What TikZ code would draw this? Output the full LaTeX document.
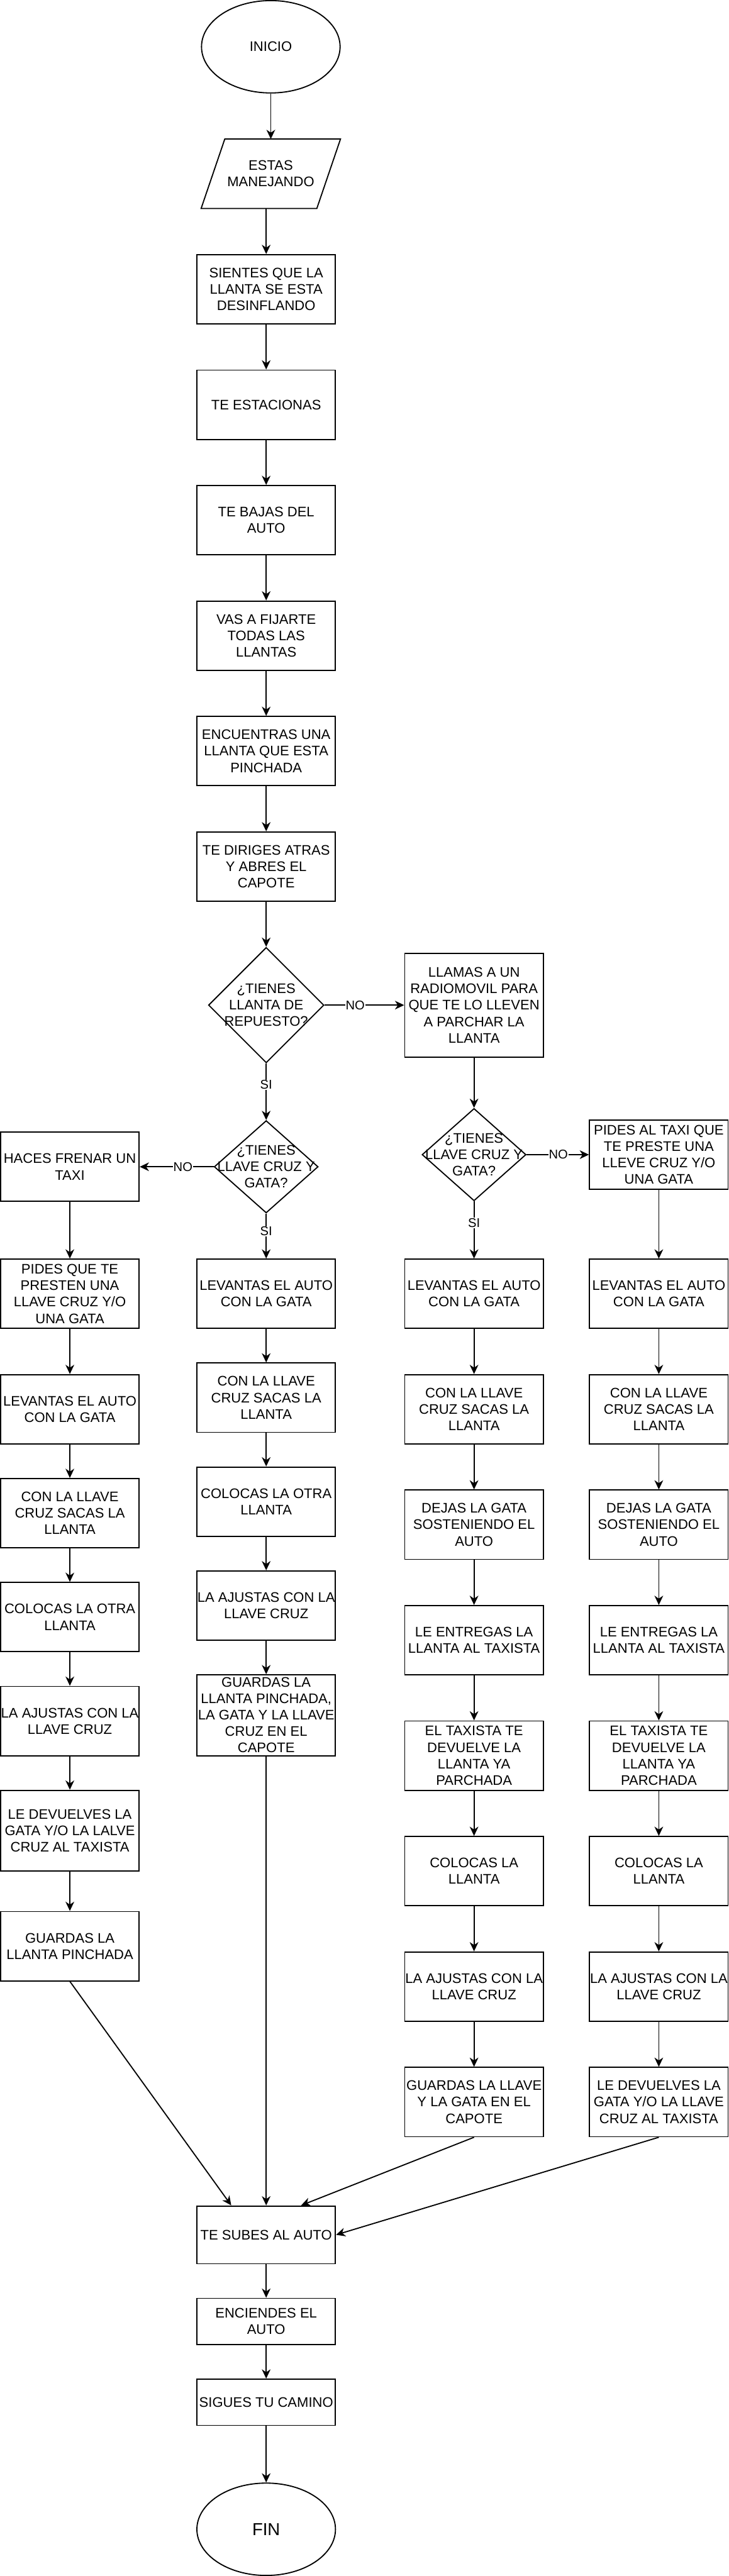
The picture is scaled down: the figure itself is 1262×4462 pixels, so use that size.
\documentclass[tikz,border=0pt]{standalone}
\usepackage{fontspec}
\setmainfont{Liberation Sans}
\usetikzlibrary{shapes.geometric,arrows.meta,calc}
\begin{document}
\begin{tikzpicture}[x=1pt,y=-1pt,
  every node/.style={font=\fontsize{24}{28.5}\selectfont, inner sep=0pt, align=center},
  box/.style={draw, line width=2pt, minimum width=240pt, minimum height=120pt},
  tallbox/.style={box, minimum height=140pt},
  term/.style={draw, ellipse, line width=2pt, minimum width=240pt, minimum height=160pt},
  dia/.style={draw, diamond, line width=2pt},
  arr/.style={draw, line width=2pt, -{Stealth[length=16pt,width=15pt,inset=5pt]}},
  lbl/.style={font=\fontsize{22}{26}\selectfont, fill=white, inner sep=1pt}
]
\fill[white] (0,0) rectangle (1262,4462);
\useasboundingbox (0,0) rectangle (1262,4462);

% main trunk
\node[term] (inicio) at (469,81) {INICIO};
\node[minimum width=241pt, minimum height=120pt] (estas) at (469,301) {ESTAS\\MANEJANDO};
\draw[line width=2pt] ($(estas.north west)+(41,0)$) -- (estas.north east) -- ($(estas.south east)+(-41,0)$) -- (estas.south west) -- cycle;
\node[box] (sientes) at (461,501) {SIENTES QUE LA\\LLANTA SE ESTA\\DESINFLANDO};
\node[box] (estac) at (461,701) {TE ESTACIONAS};
\node[box] (bajas) at (461,901) {TE BAJAS DEL\\AUTO};
\node[box] (vas) at (461,1101) {VAS A FIJARTE\\TODAS LAS\\LLANTAS};
\node[box] (encu) at (461,1301) {ENCUENTRAS UNA\\LLANTA QUE ESTA\\PINCHADA};
\node[box] (dirig) at (461,1501) {TE DIRIGES ATRAS\\Y ABRES EL\\CAPOTE};

% decisions
\node[dia, minimum width=200pt, minimum height=200pt] (d1) at (461,1741) {};
\node (d1t) at (d1) {¿TIENES\\LLANTA DE\\REPUESTO?};
\node[box, minimum height=180pt] (llamas) at (821,1741) {LLAMAS A UN\\RADIOMOVIL PARA\\QUE TE LO LLEVEN\\A PARCHAR LA\\LLANTA};
\node[dia, minimum width=180pt, minimum height=160pt] (d2) at (461,2021) {};
\node (d2t) at (d2) {¿TIENES\\LLAVE CRUZ Y\\GATA?};
\node[box] (haces) at (121,2021) {HACES FRENAR UN\\TAXI};
\node[dia, minimum width=180pt, minimum height=160pt] (d3) at (821,2000) {};
\node (d3t) at (d3) {¿TIENES\\LLAVE CRUZ Y\\GATA?};
\node[box] (pides4) at (1141,2000) {PIDES AL TAXI QUE\\TE PRESTE UNA\\LLEVE CRUZ Y/O\\UNA GATA};

% column 1
\node[box] (pides1) at (121,2241) {PIDES QUE TE\\PRESTEN UNA\\LLAVE CRUZ Y/O\\UNA GATA};
\node[box] (lev1) at (121,2441) {LEVANTAS EL AUTO\\CON LA GATA};
\node[box] (con1) at (121,2621) {CON LA LLAVE\\CRUZ SACAS LA\\LLANTA};
\node[box] (colo1) at (121,2801) {COLOCAS LA OTRA\\LLANTA};
\node[box] (aj1) at (121,2981) {LA AJUSTAS CON LA\\LLAVE CRUZ};
\node[tallbox] (dev1) at (121,3171) {LE DEVUELVES LA\\GATA Y/O LA LALVE\\CRUZ AL TAXISTA};
\node[box] (guard1) at (121,3371) {GUARDAS LA\\LLANTA PINCHADA};

% column 2
\node[box] (lev2) at (461,2241) {LEVANTAS EL AUTO\\CON LA GATA};
\node[box] (con2) at (461,2421) {CON LA LLAVE\\CRUZ SACAS LA\\LLANTA};
\node[box] (colo2) at (461,2601) {COLOCAS LA OTRA\\LLANTA};
\node[box] (aj2) at (461,2781) {LA AJUSTAS CON LA\\LLAVE CRUZ};
\node[tallbox, font=\fontsize{24}{28.3}\selectfont] (guard2) at (461,2971) {GUARDAS LA\\LLANTA PINCHADA,\\LA GATA Y LA LLAVE\\CRUZ EN EL\\CAPOTE};

% column 3
\node[box] (lev3) at (821,2241) {LEVANTAS EL AUTO\\CON LA GATA};
\node[box] (con3) at (821,2441) {CON LA LLAVE\\CRUZ SACAS LA\\LLANTA};
\node[box] (dej3) at (821,2641) {DEJAS LA GATA\\SOSTENIENDO EL\\AUTO};
\node[box] (ent3) at (821,2841) {LE ENTREGAS LA\\LLANTA AL TAXISTA};
\node[box] (tax3) at (821,3041) {EL TAXISTA TE\\DEVUELVE LA\\LLANTA YA\\PARCHADA};
\node[box] (colo3) at (821,3241) {COLOCAS LA\\LLANTA};
\node[box] (aj3) at (821,3441) {LA AJUSTAS CON LA\\LLAVE CRUZ};
\node[box] (guard3) at (821,3641) {GUARDAS LA LLAVE\\Y LA GATA EN EL\\CAPOTE};

% column 4
\node[box] (lev4) at (1141,2241) {LEVANTAS EL AUTO\\CON LA GATA};
\node[box] (con4) at (1141,2441) {CON LA LLAVE\\CRUZ SACAS LA\\LLANTA};
\node[box] (dej4) at (1141,2641) {DEJAS LA GATA\\SOSTENIENDO EL\\AUTO};
\node[box] (ent4) at (1141,2841) {LE ENTREGAS LA\\LLANTA AL TAXISTA};
\node[box] (tax4) at (1141,3041) {EL TAXISTA TE\\DEVUELVE LA\\LLANTA YA\\PARCHADA};
\node[box] (colo4) at (1141,3241) {COLOCAS LA\\LLANTA};
\node[box] (aj4) at (1141,3441) {LA AJUSTAS CON LA\\LLAVE CRUZ};
\node[box] (dev4) at (1141,3641) {LE DEVUELVES LA\\GATA Y/O LA LLAVE\\CRUZ AL TAXISTA};

% end
\node[box, minimum height=100pt] (subes) at (461,3871) {TE SUBES AL AUTO};
\node[box, minimum height=80pt] (encien) at (461,4021) {ENCIENDES EL\\AUTO};
\node[box, minimum height=80pt] (sigues) at (461,4161) {SIGUES TU CAMINO};
\node[term, font=\fontsize{30}{36}\selectfont] (fin) at (461,4381) {FIN};

% connectors: trunk
\draw[arr] (inicio.south) -- (estas.north);
\draw[arr] (sientes.north |- estas.south) -- (sientes.north);
\draw[arr] (sientes) -- (estac);
\draw[arr] (estac) -- (bajas);
\draw[arr] (bajas) -- (vas);
\draw[arr] (vas) -- (encu);
\draw[arr] (encu) -- (dirig);
\draw[arr] (dirig) -- (d1);
\draw[arr] (d1.east) -- node[lbl, pos=0.386] (no1) {NO} (llamas.west);
\draw[arr] (d1.south) -- node[lbl, pos=0.375] (si1) {SI} (d2.north);
\draw[arr] (d2.west) -- node[lbl, pos=0.415] (no2) {NO} (haces.east);
\draw[arr] (d2.south) -- node[lbl, pos=0.395] (si2) {SI} (lev2.north);
\draw[arr] (llamas) -- (d3);
\draw[arr] (d3.east) -- node[lbl, pos=0.51] (no3) {NO} (pides4.west);
\draw[arr] (d3.south) -- node[lbl, pos=0.376] (si3) {SI} (lev3.north);
\draw[arr] (pides4) -- (lev4);

% column 1
\draw[arr] (haces) -- (pides1);
\draw[arr] (pides1) -- (lev1);
\draw[arr] (lev1) -- (con1);
\draw[arr] (con1) -- (colo1);
\draw[arr] (colo1) -- (aj1);
\draw[arr] (aj1) -- (dev1);
\draw[arr] (dev1) -- (guard1);
% column 2
\draw[arr] (lev2) -- (con2);
\draw[arr] (con2) -- (colo2);
\draw[arr] (colo2) -- (aj2);
\draw[arr] (aj2) -- (guard2);
% column 3
\draw[arr] (lev3) -- (con3);
\draw[arr] (con3) -- (dej3);
\draw[arr] (dej3) -- (ent3);
\draw[arr] (ent3) -- (tax3);
\draw[arr] (tax3) -- (colo3);
\draw[arr] (colo3) -- (aj3);
\draw[arr] (aj3) -- (guard3);
% column 4
\draw[arr] (lev4) -- (con4);
\draw[arr] (con4) -- (dej4);
\draw[arr] (dej4) -- (ent4);
\draw[arr] (ent4) -- (tax4);
\draw[arr] (tax4) -- (colo4);
\draw[arr] (colo4) -- (aj4);
\draw[arr] (aj4) -- (dev4);

% merging
\draw[arr] (guard1.south) -- ($(subes.north west)!0.25!(subes.north east)$);
\draw[arr] (guard2) -- (subes);
\draw[arr] (guard3.south) -- ($(subes.north west)!0.75!(subes.north east)$);
\draw[arr] (dev4.south) -- (subes.east);
\draw[arr] (subes) -- (encien);
\draw[arr] (encien) -- (sigues);
\draw[arr] (sigues) -- (fin);
\end{tikzpicture}
\end{document}
